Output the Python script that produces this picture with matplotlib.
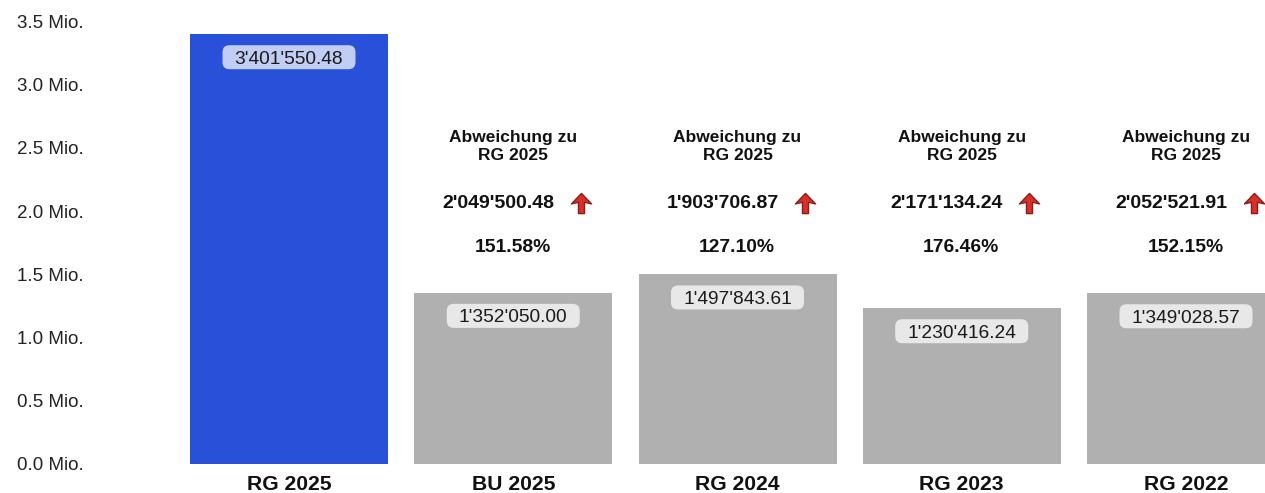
import numpy as np
import matplotlib
matplotlib.use("Agg")
import matplotlib.pyplot as plt
from matplotlib.patches import FancyBboxPatch
from matplotlib.path import Path

plt.rcParams['font.family'] = ['Liberation Sans', 'DejaVu Sans']

categories = ["RG 2025", "BU 2025", "RG 2024", "RG 2023", "RG 2022"]
values = [3401550.48, 1352050.00, 1497843.61, 1230416.24, 1349028.57]
value_labels = ["3'401'550.48", "1'352'050.00", "1'497'843.61", "1'230'416.24", "1'349'028.57"]
diff_labels = ["2'049'500.48", "1'903'706.87", "2'171'134.24", "2'052'521.91"]
pct_labels = ["151.58%", "127.10%", "176.46%", "152.15%"]
y_ticks = [0, 500000, 1000000, 1500000, 2000000, 2500000, 3000000, 3500000]
y_tick_labels = ["0.0 Mio.", "0.5 Mio.", "1.0 Mio.", "1.5 Mio.", "2.0 Mio.", "2.5 Mio.", "3.0 Mio.", "3.5 Mio."]
bar_colors = ["#2850d8", "#b0b0b0", "#b0b0b0", "#b0b0b0", "#b0b0b0"]

W, H = 1265, 493
x_unit = 224.25  # px per bar
y_unit = 441.7 / 3500000  # px per CHF

fig = plt.figure(figsize=(W / 100, H / 100), dpi=100)
# axes spans the whole width, y from 0 to 3.5 Mio
ax = fig.add_axes([0, (H - 463.5) / H, 1, 441.7 / H])
ax.set_xlim(-289 / x_unit, (W - 289) / x_unit)
ax.set_ylim(0, 3500000)

x = np.arange(len(categories))
ax.bar(x, values, width=198 / x_unit, color=bar_colors)

for s in ax.spines.values():
    s.set_visible(False)

ax.set_yticks(y_ticks)
ax.set_yticklabels(y_tick_labels, fontsize=13.5, color="#222222")
ax.set_xticks(x)
ax.set_xticklabels(categories, fontsize=15.2, fontweight="bold", color="#111111")
ax.tick_params(axis="both", length=0)
ax.tick_params(axis="x", pad=8.5)
ax.tick_params(axis="y", direction="in", pad=-60.5)
for t in ax.get_yticklabels():
    t.set_ha("right")
    t.set_va("center_baseline")


def py(pixel_y):
    # pixel row of the picture -> y value
    return (463.5 - pixel_y) / y_unit


# pill with the value under the top of each bar
for i, v in enumerate(values):
    cy = v - 23 / y_unit
    box = FancyBboxPatch((i - 66.5 / x_unit, cy - 12 / y_unit), 133 / x_unit, 24 / y_unit,
                         boxstyle="round,pad=0,rounding_size=%f" % (7 / x_unit),
                         mutation_aspect=x_unit / y_unit,
                         fc="white", ec="none", alpha=0.72, zorder=3)
    ax.add_patch(box)
    ax.text(i, cy, value_labels[i], ha="center", va="center_baseline", fontsize=13.8,
            color="#1a1a1a", zorder=4)

# arrow marker
arrow = Path([(-0.15, -0.5), (0.15, -0.5), (0.15, 0.06), (0.5, -0.02), (0, 0.5), (-0.5, -0.02), (-0.15, 0.06), (-0.15, -0.5)],
             closed=True)

# deviation block above the other bars
for i in range(1, len(categories)):
    ax.text(i, py(146.5), "Abweichung zu\nRG 2025", ha="center", va="center",
            fontsize=12.5, fontweight="bold", color="#111111", linespacing=1.26)
    ax.text(i - 15 / x_unit, py(204), diff_labels[i - 1], ha="center", va="center",
            fontsize=14, fontweight="bold", color="#111111")
    ax.plot(i + 67.5 / x_unit, py(202.5), marker=arrow, ms=14.5, mfc="#d8302a", mec="#8c1c18",
            mew=1.0, clip_on=False)
    ax.text(i - 0.5 / x_unit, py(248), pct_labels[i - 1], ha="center", va="center",
            fontsize=13.9, fontweight="bold", color="#111111")

fig.savefig("out.png", dpi=100)
